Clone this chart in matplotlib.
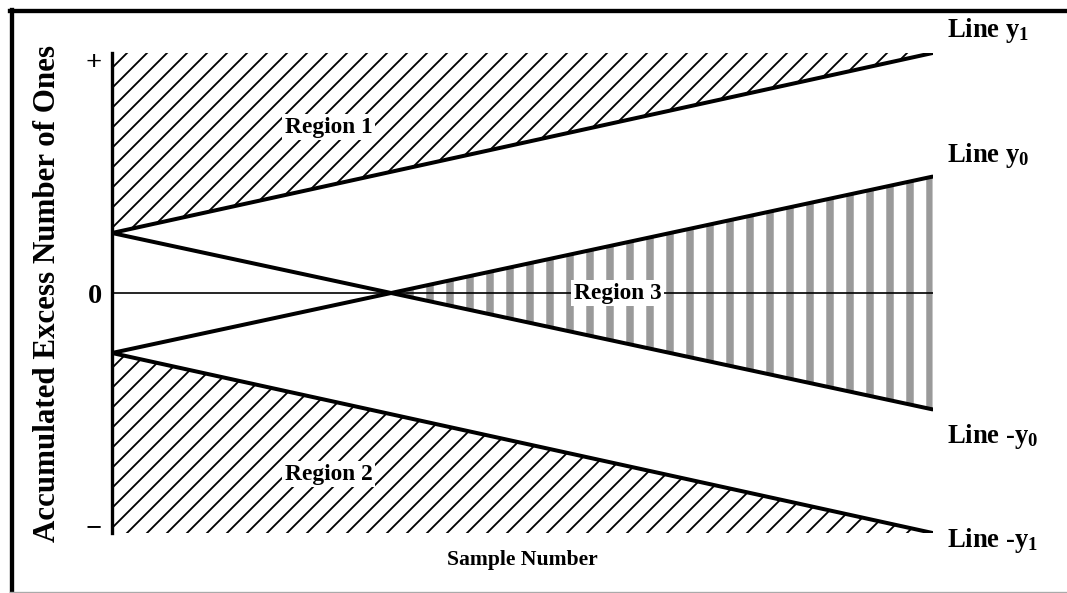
#!/usr/bin/env python3
# -*- coding: utf-8 -*-

import numpy as np
import matplotlib
matplotlib.use("Agg")
import matplotlib.pyplot as plt
from matplotlib.lines import Line2D

# data (arbitrary units, axis runs from -1 to +1)
sample = np.array([0.0, 10.0])
y1 = np.array([0.25, 1.0])
y0 = np.array([-0.25, 0.485])
neg_y0 = -y0
neg_y1 = -y1

line_labels = ["Line y$_1$", "Line y$_0$", "Line -y$_0$", "Line -y$_1$"]
label_y = [1.095, 0.575, -0.60, -1.03]
region_labels = ["Region 1", "Region 2", "Region 3"]
region_pos = [(2.64, 0.69), (2.64, -0.755), (6.16, 0.0)]
ytick_pos = [0.97, 0.0, -0.97]
ytick_labels = ["+", "0", "\u2212"]

plt.rcParams["font.family"] = "Liberation Serif"
plt.rcParams["font.weight"] = "bold"
plt.rcParams["mathtext.fontset"] = "custom"
plt.rcParams["mathtext.rm"] = "Liberation Serif:bold"
plt.rcParams["mathtext.it"] = "Liberation Serif:bold"
plt.rcParams["mathtext.bf"] = "Liberation Serif:bold"
plt.rcParams["hatch.linewidth"] = 1.1

DPI = 120
fig = plt.figure(figsize=(1067 / DPI, 593 / DPI), dpi=DPI)
ax = fig.add_axes([0.105, 0.1012, 0.769, 0.8094])
ax.set_xlim(0, 10)
ax.set_ylim(-1, 1)

# region 1 and 2: diagonal hatching
ax.fill_between(sample, y1, 1, facecolor="none", edgecolor="black",
                linewidth=0, hatch="//")
ax.fill_between(sample, -1, neg_y1, facecolor="none", edgecolor="black",
                linewidth=0, hatch="//")

# region 3: grey vertical stripes
with plt.rc_context({"hatch.linewidth": 4.5}):
    ax.fill_between(sample, neg_y0, y0, where=y0 > neg_y0, interpolate=True,
                    facecolor="none", edgecolor="#9a9a9a", linewidth=0,
                    hatch="|")

ax.axhline(0, color="black", linewidth=1.0)
for yy in (y1, y0, neg_y0, neg_y1):
    ax.plot(sample, yy, color="black", linewidth=2.4, solid_capstyle="round")

for lab, yy in zip(line_labels, label_y):
    ax.text(10.18, yy, lab, fontsize=16, fontweight="bold", ha="left",
            va="center", clip_on=False)

for lab, (xx, yy) in zip(region_labels, region_pos):
    ax.text(xx, yy, lab, fontsize=14, fontweight="bold", ha="center",
            va="center",
            bbox=dict(facecolor="white", edgecolor="none", pad=1.5))

ax.set_yticks(ytick_pos)
ax.set_yticklabels(ytick_labels, fontsize=17, fontweight="bold")
ax.tick_params(axis="y", length=0, pad=6)
ax.set_xticks([])
for side in ("top", "right", "bottom"):
    ax.spines[side].set_visible(False)
ax.spines["left"].set_linewidth(2.0)

ax.set_xlabel("Sample Number", fontsize=13, fontweight="bold", labelpad=10)
ax.set_ylabel("Accumulated Excess Number of Ones", fontsize=18.6,
              fontweight="bold", labelpad=14)

# outer frame
fig.add_artist(Line2D([12 / 1067, 12 / 1067], [0, 1 - 10 / 593],
                      transform=fig.transFigure, color="black", linewidth=2.6))
fig.add_artist(Line2D([10 / 1067, 1], [1 - 11 / 593, 1 - 11 / 593],
                      transform=fig.transFigure, color="black", linewidth=2.6))
fig.add_artist(Line2D([10 / 1067, 1], [1 / 593, 1 / 593],
                      transform=fig.transFigure, color="#aaaaaa", linewidth=0.8))

fig.savefig("out.png", dpi=DPI)
